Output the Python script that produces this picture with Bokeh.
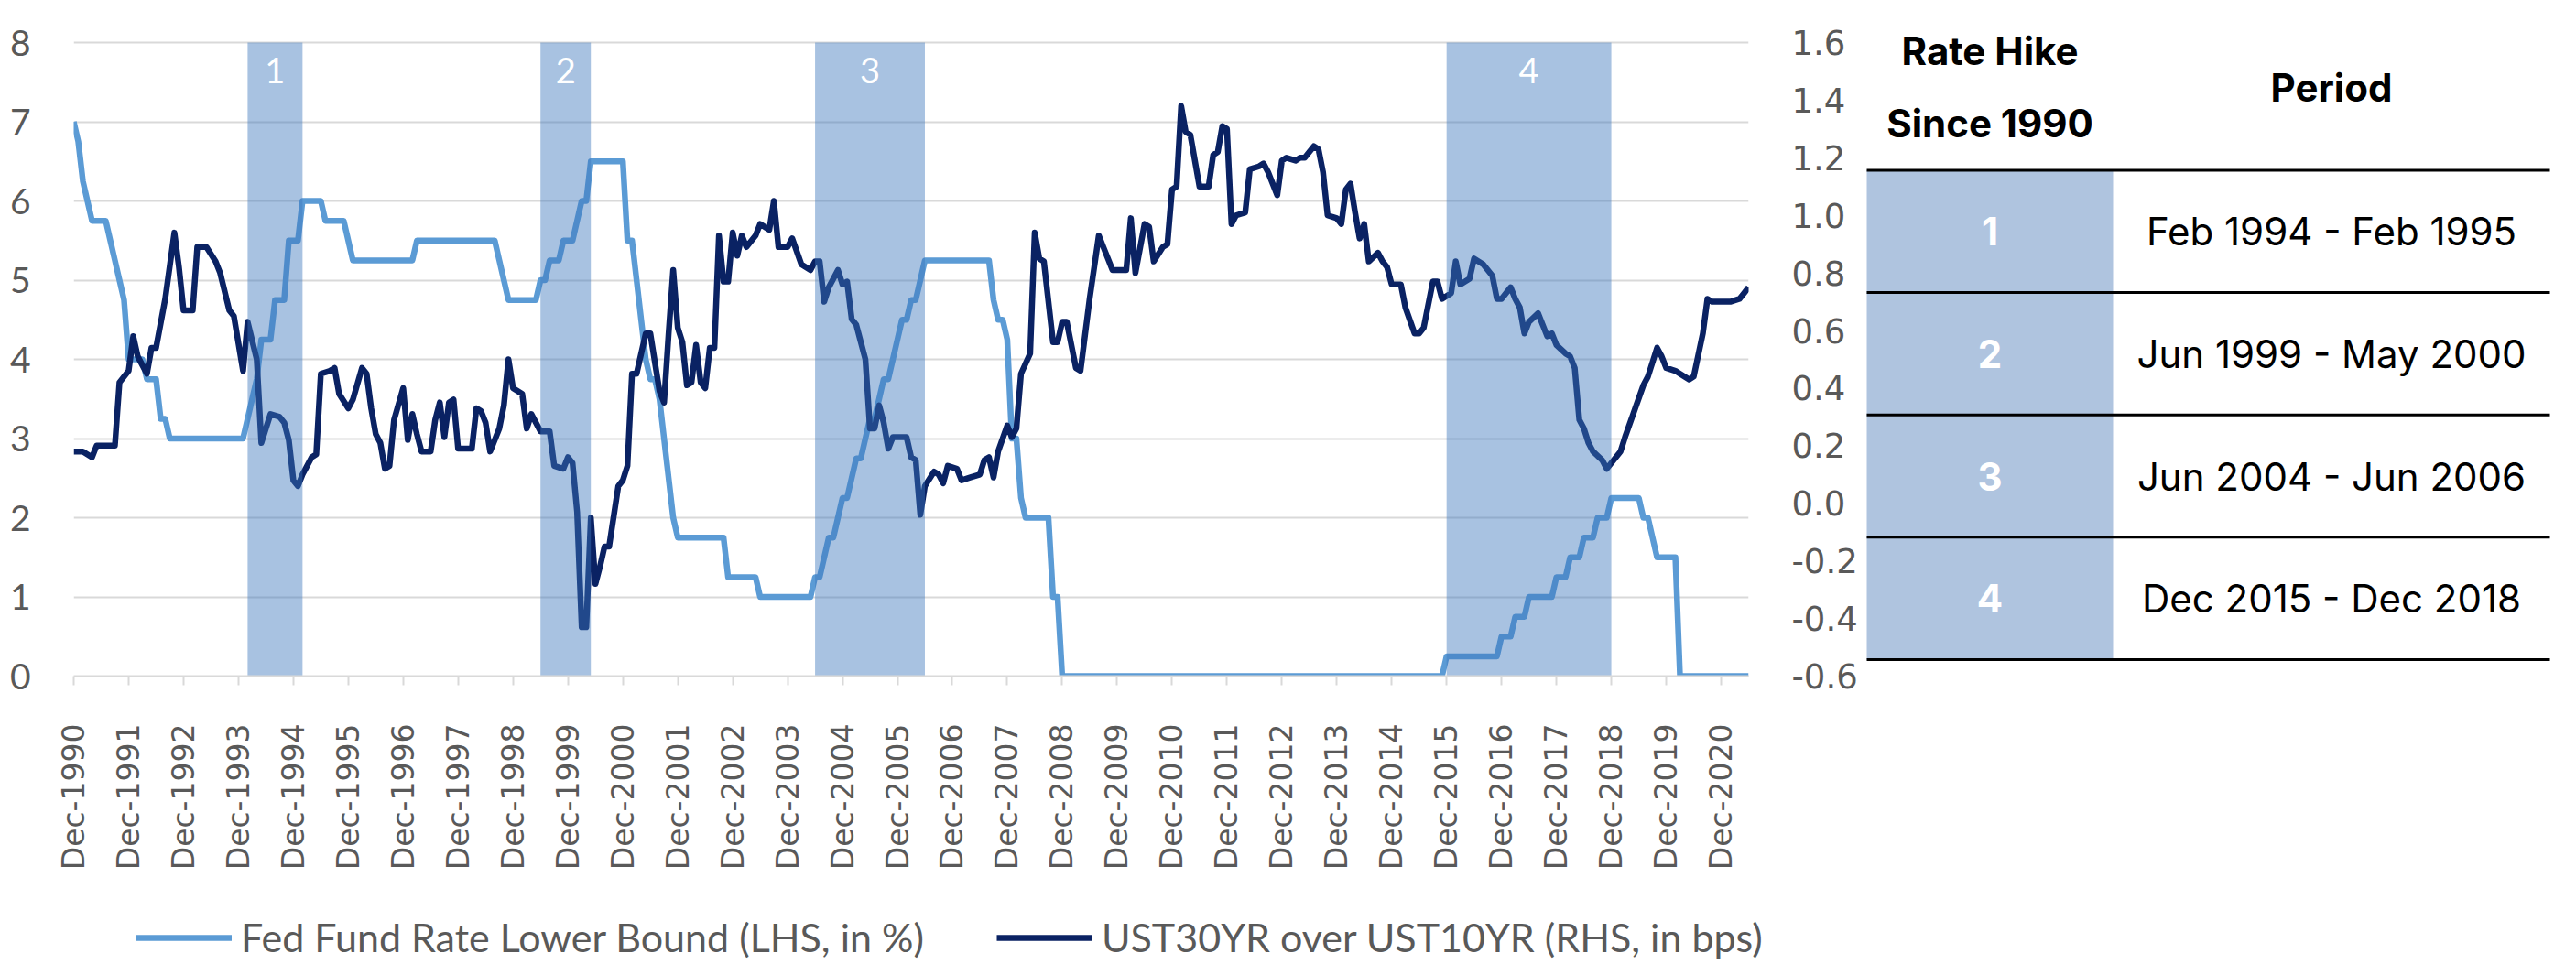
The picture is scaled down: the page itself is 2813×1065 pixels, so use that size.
import math
from bokeh.plotting import figure
from bokeh.models import (Range1d, LinearAxis, FixedTicker, Legend, LegendItem,
                          PrintfTickFormatter, ColumnDataSource)
from bokeh.layouts import row, column
from bokeh.embed import file_html
from bokeh.resources import INLINE
from bokeh.core.properties import value

# ---------------- data ----------------
fed_dates = ["1990-12", "1991-01", "1991-02", "1991-03", "1991-04", "1991-07", "1991-08", "1991-09",
             "1991-10", "1991-11", "1991-12", "1992-03", "1992-04", "1992-06", "1992-07", "1992-08",
             "1992-09", "1994-01", "1994-02", "1994-03", "1994-04", "1994-05", "1994-07", "1994-08",
             "1994-10", "1994-11", "1995-01", "1995-02", "1995-06", "1995-07", "1995-11", "1995-12",
             "1996-01", "1997-02", "1997-03", "1998-08", "1998-09", "1998-10", "1998-11", "1999-05",
             "1999-06", "1999-07", "1999-08", "1999-10", "1999-11", "2000-01", "2000-02", "2000-03",
             "2000-04", "2000-05", "2000-12", "2001-01", "2001-02", "2001-03", "2001-04", "2001-05",
             "2001-06", "2001-07", "2001-08", "2001-09", "2001-10", "2001-11", "2001-12", "2002-10",
             "2002-11", "2003-05", "2003-06", "2004-05", "2004-06", "2004-07", "2004-08", "2004-09",
             "2004-10", "2004-11", "2004-12", "2005-01", "2005-02", "2005-03", "2005-04", "2005-05",
             "2005-06", "2005-07", "2005-08", "2005-09", "2005-10", "2005-11", "2005-12", "2006-01",
             "2006-02", "2006-03", "2006-04", "2006-05", "2006-06", "2007-08", "2007-09", "2007-10",
             "2007-11", "2007-12", "2008-01", "2008-02", "2008-03", "2008-04", "2008-09", "2008-10",
             "2008-11", "2008-12", "2015-11", "2015-12", "2016-11", "2016-12", "2017-02", "2017-03",
             "2017-05", "2017-06", "2017-11", "2017-12", "2018-02", "2018-03", "2018-05", "2018-06",
             "2018-08", "2018-09", "2018-11", "2018-12", "2019-06", "2019-07", "2019-08", "2019-09",
             "2019-10", "2020-02", "2020-03", "2021-06"]
fed_values = [7.0, 6.75, 6.25, 6.0, 5.75, 5.75, 5.5, 5.25,
              5.0, 4.75, 4.0, 4.0, 3.75, 3.75, 3.25, 3.25,
              3.0, 3.0, 3.25, 3.5, 3.75, 4.25, 4.25, 4.75,
              4.75, 5.5, 5.5, 6.0, 6.0, 5.75, 5.75, 5.5,
              5.25, 5.25, 5.5, 5.5, 5.25, 5.0, 4.75, 4.75,
              5.0, 5.0, 5.25, 5.25, 5.5, 5.5, 5.75, 6.0,
              6.0, 6.5, 6.5, 5.5, 5.5, 5.0, 4.5, 4.0,
              3.75, 3.75, 3.5, 3.0, 2.5, 2.0, 1.75, 1.75,
              1.25, 1.25, 1.0, 1.0, 1.25, 1.25, 1.5, 1.75,
              1.75, 2.0, 2.25, 2.25, 2.5, 2.75, 2.75, 3.0,
              3.25, 3.25, 3.5, 3.75, 3.75, 4.0, 4.25, 4.5,
              4.5, 4.75, 4.75, 5.0, 5.25, 5.25, 4.75, 4.5,
              4.5, 4.25, 3.0, 3.0, 2.25, 2.0, 2.0, 1.0,
              1.0, 0.0, 0.0, 0.25, 0.25, 0.5, 0.5, 0.75,
              0.75, 1.0, 1.0, 1.25, 1.25, 1.5, 1.5, 1.75,
              1.75, 2.0, 2.0, 2.25, 2.25, 2.0, 2.0, 1.75,
              1.5, 1.5, 0.0, 0.0]

spread_dates = ["1990-12", "1991-02", "1991-04", "1991-05", "1991-09", "1991-10", "1991-12", "1992-01",
                "1992-02", "1992-04", "1992-05", "1992-06", "1992-08", "1992-10", "1992-11", "1992-12",
                "1993-02", "1993-03", "1993-05", "1993-07", "1993-08", "1993-10", "1993-11", "1994-01",
                "1994-02", "1994-04", "1994-05", "1994-07", "1994-09", "1994-10", "1994-11", "1994-12",
                "1995-01", "1995-02", "1995-04", "1995-05", "1995-06", "1995-08", "1995-09", "1995-10",
                "1995-12", "1996-01", "1996-03", "1996-04", "1996-05", "1996-06", "1996-07", "1996-08",
                "1996-09", "1996-10", "1996-12", "1997-01", "1997-02", "1997-03", "1997-04", "1997-06",
                "1997-07", "1997-08", "1997-09", "1997-10", "1997-11", "1997-12", "1998-03", "1998-04",
                "1998-05", "1998-06", "1998-07", "1998-09", "1998-10", "1998-11", "1998-12", "1999-02",
                "1999-03", "1999-04", "1999-06", "1999-08", "1999-09", "1999-11", "1999-12", "2000-01",
                "2000-02", "2000-03", "2000-04", "2000-05", "2000-06", "2000-07", "2000-08", "2000-09",
                "2000-11", "2000-12", "2001-01", "2001-02", "2001-03", "2001-05", "2001-06", "2001-08",
                "2001-09", "2001-10", "2001-11", "2001-12", "2002-01", "2002-02", "2002-03", "2002-04",
                "2002-05", "2002-06", "2002-07", "2002-08", "2002-09", "2002-10", "2002-11", "2002-12",
                "2003-01", "2003-02", "2003-03", "2003-05", "2003-06", "2003-08", "2003-09", "2003-10",
                "2003-12", "2004-01", "2004-03", "2004-05", "2004-06", "2004-07", "2004-08", "2004-09",
                "2004-11", "2004-12", "2005-01", "2005-02", "2005-03", "2005-04", "2005-05", "2005-06",
                "2005-07", "2005-08", "2005-09", "2005-10", "2005-11", "2006-02", "2006-03", "2006-04",
                "2006-05", "2006-06", "2006-08", "2006-09", "2006-10", "2006-11", "2007-01", "2007-02",
                "2007-04", "2007-06", "2007-07", "2007-08", "2007-09", "2007-10", "2007-12", "2008-01",
                "2008-02", "2008-03", "2008-05", "2008-06", "2008-07", "2008-08", "2008-10", "2008-11",
                "2008-12", "2009-01", "2009-03", "2009-04", "2009-06", "2009-07", "2009-08", "2009-09",
                "2009-11", "2010-02", "2010-03", "2010-04", "2010-06", "2010-07", "2010-08", "2010-10",
                "2010-11", "2010-12", "2011-01", "2011-02", "2011-03", "2011-04", "2011-06", "2011-08",
                "2011-09", "2011-10", "2011-11", "2011-12", "2012-01", "2012-02", "2012-04", "2012-05",
                "2012-07", "2012-08", "2012-09", "2012-11", "2012-12", "2013-01", "2013-03", "2013-04",
                "2013-05", "2013-07", "2013-08", "2013-09", "2013-10", "2013-12", "2014-01", "2014-02",
                "2014-03", "2014-04", "2014-05", "2014-06", "2014-07", "2014-09", "2014-10", "2014-11",
                "2014-12", "2015-02", "2015-03", "2015-05", "2015-06", "2015-07", "2015-09", "2015-10",
                "2015-11", "2016-01", "2016-02", "2016-03", "2016-05", "2016-06", "2016-08", "2016-09",
                "2016-10", "2016-11", "2016-12", "2017-02", "2017-03", "2017-04", "2017-05", "2017-06",
                "2017-08", "2017-10", "2017-11", "2017-12", "2018-02", "2018-03", "2018-04", "2018-05",
                "2018-06", "2018-07", "2018-08", "2018-10", "2018-11", "2018-12", "2019-01", "2019-02",
                "2019-03", "2019-05", "2019-07", "2019-08", "2019-10", "2019-11", "2019-12", "2020-02",
                "2020-03", "2020-05", "2020-06", "2020-08", "2020-09", "2020-10", "2020-12", "2021-02",
                "2021-04", "2021-05", "2021-06"]
spread_values = [0.18, 0.18, 0.16, 0.20, 0.20, 0.42, 0.46, 0.58,
                 0.51, 0.45, 0.54, 0.54, 0.71, 0.94, 0.82, 0.67,
                 0.67, 0.89, 0.89, 0.84, 0.80, 0.67, 0.65, 0.46,
                 0.63, 0.50, 0.21, 0.31, 0.30, 0.28, 0.22, 0.08,
                 0.06, 0.10, 0.16, 0.17, 0.45, 0.46, 0.47, 0.38,
                 0.33, 0.36, 0.47, 0.45, 0.33, 0.24, 0.21, 0.12,
                 0.13, 0.29, 0.40, 0.22, 0.31, 0.24, 0.18, 0.18,
                 0.29, 0.35, 0.23, 0.35, 0.36, 0.19, 0.19, 0.33,
                 0.32, 0.28, 0.18, 0.26, 0.34, 0.50, 0.40, 0.38,
                 0.26, 0.31, 0.25, 0.25, 0.13, 0.12, 0.16, 0.14,
                 -0.03, -0.43, -0.43, -0.05, -0.28, -0.22, -0.15, -0.15,
                 0.06, 0.08, 0.13, 0.45, 0.45, 0.59, 0.59, 0.39,
                 0.35, 0.59, 0.81, 0.61, 0.56, 0.41, 0.42, 0.55,
                 0.42, 0.40, 0.54, 0.54, 0.93, 0.77, 0.77, 0.94,
                 0.86, 0.93, 0.89, 0.93, 0.97, 0.95, 1.05, 0.89,
                 0.89, 0.92, 0.83, 0.81, 0.84, 0.84, 0.70, 0.75,
                 0.81, 0.76, 0.77, 0.64, 0.62, 0.56, 0.50, 0.26,
                 0.26, 0.34, 0.28, 0.19, 0.23, 0.23, 0.16, 0.15,
                 -0.04, 0.06, 0.11, 0.10, 0.07, 0.13, 0.12, 0.08,
                 0.09, 0.10, 0.15, 0.16, 0.09, 0.18, 0.27, 0.23,
                 0.26, 0.45, 0.52, 0.94, 0.85, 0.84, 0.56, 0.56,
                 0.63, 0.63, 0.47, 0.46, 0.71, 0.82, 0.93, 0.89,
                 0.81, 0.81, 0.99, 0.80, 0.97, 0.96, 0.84, 0.89,
                 0.90, 1.09, 1.10, 1.38, 1.29, 1.28, 1.10, 1.10,
                 1.21, 1.22, 1.31, 1.30, 0.97, 1.00, 1.01, 1.16,
                 1.17, 1.18, 1.15, 1.07, 1.19, 1.20, 1.19, 1.20,
                 1.20, 1.24, 1.23, 1.15, 1.00, 0.99, 0.97, 1.09,
                 1.11, 1.01, 0.92, 0.97, 0.84, 0.87, 0.84, 0.82,
                 0.76, 0.76, 0.68, 0.59, 0.59, 0.61, 0.77, 0.77,
                 0.71, 0.73, 0.84, 0.76, 0.78, 0.85, 0.83, 0.81,
                 0.79, 0.71, 0.71, 0.75, 0.71, 0.68, 0.59, 0.63,
                 0.66, 0.58, 0.59, 0.55, 0.52, 0.51, 0.47, 0.29,
                 0.26, 0.21, 0.18, 0.15, 0.12, 0.14, 0.16, 0.18,
                 0.23, 0.32, 0.41, 0.44, 0.54, 0.51, 0.47, 0.46,
                 0.45, 0.43, 0.44, 0.59, 0.71, 0.70, 0.70, 0.70,
                 0.71, 0.73, 0.75]

hike_ids = ["1", "2", "3", "4"]
hike_start = ["1994-02", "1999-06", "2004-06", "2015-12"]
hike_end = ["1995-02", "2000-05", "2006-06", "2018-12"]
hike_periods = ["Feb 1994 - Feb 1995", "Jun 1999 - May 2000",
                "Jun 2004 - Jun 2006", "Dec 2015 - Dec 2018"]

tick_years = list(range(1990, 2021))
lhs_ticks = [0, 1, 2, 3, 4, 5, 6, 7, 8]
rhs_ticks = [-0.6, -0.4, -0.2, 0.0, 0.2, 0.4, 0.6, 0.8, 1.0, 1.2, 1.4, 1.6]

legend_fed = "Fed Fund Rate Lower Bound (LHS, in %)"
legend_spread = "UST30YR over UST10YR (RHS, in bps)"
table_head_left = ["Rate Hike", "Since 1990"]
table_head_right = "Period"


def month_index(s):
    y, m = s.split("-")
    return (int(y) - 1990) * 12 + (int(m) - 12)


# ---------------- style / layout ----------------
LIGHT = "#5B9BD5"
NAVY = "#0A2263"
BAND = "#3E78BD"
GRID = "#D9D9D9"
LABEL = "#595959"

LEG_H = 80            # legend strip at the bottom
FIG_H = 1049 - LEG_H  # chart + table height
TOP_PAD = 46          # space above the "8" gridline, kept inside the frame
BOTTOM = 231          # below-frame area (axis labels)
PX_PER_UNIT = (FIG_H - TOP_PAD - BOTTOM) / 8.0
Y_TOP = 8 + TOP_PAD / PX_PER_UNIT
RHS_TOP = 1.6 + (Y_TOP - 8) * (2.2 / 8)
LEFT_B, RIGHT_B, P_W = 80, 123, 2032

X_END = month_index("2021-06")

p = figure(width=P_W, height=FIG_H, output_backend="svg", toolbar_location=None,
           x_range=Range1d(0, X_END), y_range=Range1d(0, Y_TOP),
           min_border_left=LEFT_B, min_border_right=RIGHT_B, min_border_top=0,
           min_border_bottom=BOTTOM,
           background_fill_color="white", border_fill_color="white")
p.outline_line_color = None
p.extra_y_ranges = {"rhs": Range1d(-0.6, RHS_TOP)}

fed_src = ColumnDataSource(dict(x=[month_index(d) for d in fed_dates], y=fed_values))
spr_src = ColumnDataSource(dict(x=[month_index(d) for d in spread_dates], y=spread_values))

p.line("x", "y", source=fed_src, line_color=LIGHT, line_width=6.5, line_join="round")
p.line("x", "y", source=spr_src, line_color=NAVY, line_width=6.5, line_join="round",
       y_range_name="rhs")

band_src = ColumnDataSource(dict(
    left=[month_index(d) for d in hike_start],
    right=[month_index(d) for d in hike_end],
    mid=[(month_index(a) + month_index(b)) / 2 for a, b in zip(hike_start, hike_end)],
    label=hike_ids))
p.quad(left="left", right="right", bottom=0, top=lhs_ticks[-1], source=band_src,
       fill_color=BAND, fill_alpha=0.45, line_color=None)
p.text(x="mid", y=7.65, text="label", source=band_src, text_color="white",
       text_font=value("Lato"), text_font_size="38px", text_align="center",
       text_baseline="middle")

# grid
p.xgrid.grid_line_color = None
p.ygrid.grid_line_color = GRID
p.ygrid.grid_line_width = 2
p.ygrid.ticker = FixedTicker(ticks=lhs_ticks)

# x axis
xa = p.xaxis[0]
xa.ticker = FixedTicker(ticks=[month_index(f"{y}-12") for y in tick_years])
xa.major_label_overrides = {month_index(f"{y}-12"): f"Dec-{y}" for y in tick_years}
xa.major_label_orientation = math.pi / 2
xa.axis_line_color = GRID
xa.axis_line_width = 2
xa.major_tick_line_color = GRID
xa.major_tick_line_width = 2
xa.major_tick_out = 10
xa.major_tick_in = 0
xa.minor_tick_line_color = None
xa.major_label_text_font = "DejaVu Sans"
xa.major_label_text_font_size = "33px"
xa.major_label_text_color = LABEL
xa.major_label_standoff = 42

# left axis
ya = p.yaxis[0]
ya.ticker = FixedTicker(ticks=lhs_ticks)
ya.axis_line_color = None
ya.major_tick_line_color = None
ya.minor_tick_line_color = None
ya.major_label_text_font = "Lato"
ya.major_label_text_font_size = "39px"
ya.major_label_text_color = LABEL
ya.major_label_standoff = 41

# right axis
ra = LinearAxis(y_range_name="rhs", ticker=FixedTicker(ticks=rhs_ticks),
                formatter=PrintfTickFormatter(format="%.1f"))
ra.axis_line_color = None
ra.major_tick_line_color = None
ra.minor_tick_line_color = None
ra.major_label_text_font = "DejaVu Sans"
ra.major_label_text_font_size = "37px"
ra.major_label_text_color = LABEL
ra.major_label_standoff = 41
p.add_layout(ra, "right")

# ---------------- table ----------------
T_LEFT, T_DIV, T_RIGHT = 6, 275, 752
T_W = 765
ROW_PX = 133.6
HEAD_LINE_Y = 193.5 - 8           # px from figure top
u_top = 0.5 - HEAD_LINE_Y / ROW_PX
u_bot = 0.5 + (FIG_H - BOTTOM - HEAD_LINE_Y) / ROW_PX

t = figure(width=T_W, height=FIG_H, output_backend="svg", toolbar_location=None,
           x_range=Range1d(0, T_W), y_range=Range1d(u_bot, u_top),
           x_axis_location=None, y_axis_location=None,
           min_border_left=0, min_border_right=0, min_border_top=0,
           min_border_bottom=BOTTOM,
           background_fill_color="white", border_fill_color="white")
t.outline_line_color = None
t.xgrid.grid_line_color = None
t.ygrid.grid_line_color = None

rows_idx = list(range(1, len(hike_ids) + 1))
t.quad(left=T_LEFT, right=T_DIV, top=0.5, bottom=len(hike_ids) + 0.5,
       fill_color="#AFC4DF", line_color=None)
sep = [i - 0.5 for i in rows_idx] + [len(hike_ids) + 0.5]
t.segment(x0=T_LEFT, x1=T_RIGHT, y0=sep, y1=sep, line_color="black", line_width=3)

tsrc = ColumnDataSource(dict(y=rows_idx, ids=hike_ids, periods=hike_periods))
t.text(x=(T_LEFT + T_DIV) / 2, y="y", text="ids", source=tsrc, text_color="white",
       text_font=value("Inter"), text_font_size="42px", text_font_style="bold",
       text_align="center", text_baseline="middle")
t.text(x=(T_DIV + T_RIGHT) / 2, y="y", text="periods", source=tsrc, text_color="black",
       text_font=value("Inter"), text_font_size="42px",
       text_align="center", text_baseline="middle")
t.text(x=[(T_LEFT + T_DIV) / 2] * 2, y=[-0.477, 0.115], text=table_head_left,
       text_color="black", text_font=value("Inter"), text_font_size="42px",
       text_font_style="bold", text_align="center", text_baseline="middle")
t.text(x=[(T_DIV + T_RIGHT) / 2], y=[-0.177], text=[table_head_right], text_color="black",
       text_font=value("Inter"), text_font_size="42px", text_font_style="bold",
       text_align="center", text_baseline="middle")

# ---------------- legend strip ----------------
lf = figure(width=P_W, height=LEG_H, output_backend="svg", toolbar_location=None,
            x_range=Range1d(0, 1), y_range=Range1d(0, 1),
            x_axis_location=None, y_axis_location=None,
            min_border_left=LEFT_B, min_border_right=0, min_border_top=0,
            min_border_bottom=0,
            background_fill_color="white", border_fill_color="white")
lf.outline_line_color = None
lf.xgrid.grid_line_color = None
lf.ygrid.grid_line_color = None
# key renderers: their points lie outside this strip's ranges, only the legend shows
k_fed = lf.line(x=[-2, -1], y=[-2, -1], line_color=LIGHT, line_width=6.5)
k_spr = lf.line(x=[-2, -1], y=[-2, -1], line_color=NAVY, line_width=6.5)
legend = Legend(items=[LegendItem(label=legend_fed, renderers=[k_fed]),
                       LegendItem(label=legend_spread, renderers=[k_spr])],
                orientation="horizontal", location=(68, 0),
                glyph_width=105, glyph_height=40, label_height=40,
                label_standoff=10, spacing=79, padding=0, margin=0,
                label_text_font="Lato", label_text_font_size="43px",
                label_text_color=LABEL, border_line_color=None,
                background_fill_alpha=0)
lf.add_layout(legend, "center")

layout = column(row(p, t), lf)
open("out.html", "w").write(file_html(layout, INLINE))
